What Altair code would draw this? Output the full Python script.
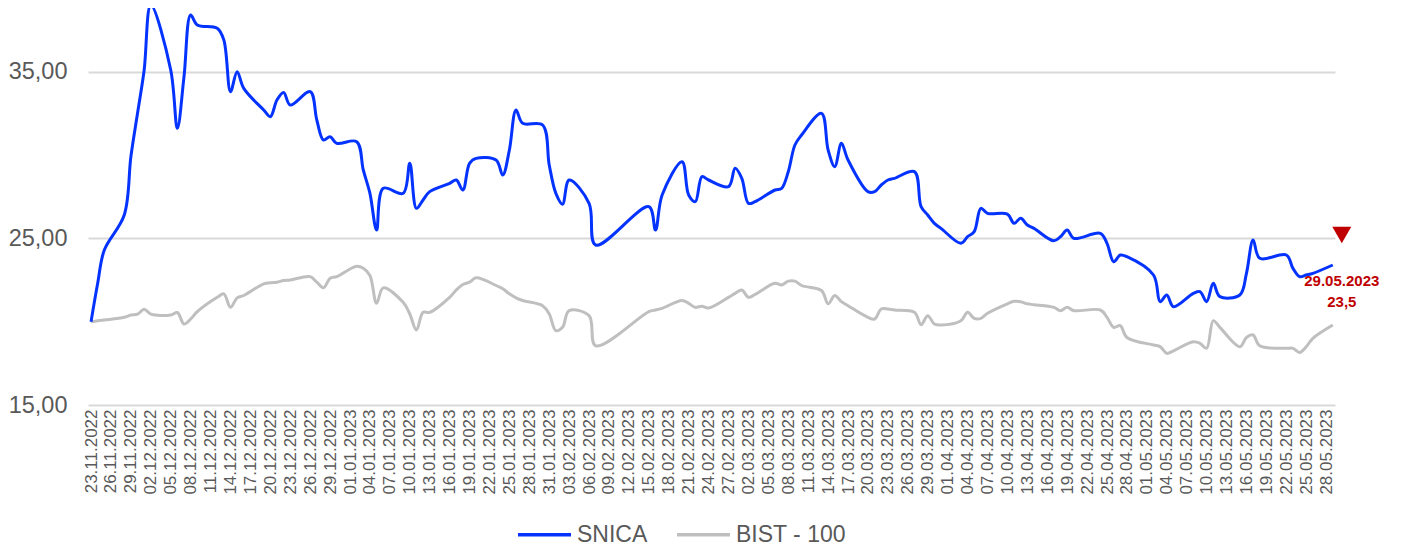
import altair as alt
import pandas as pd

# ---- data ----
dates = (
    ["2022-11-%02d" % d for d in [23, 24, 25, 28, 29, 30]]
    + ["2022-12-%02d" % d for d in [1, 2, 5, 6, 7, 8, 9, 12, 13, 14, 15, 16, 19, 20, 21, 22, 23, 26, 27, 28, 29, 30]]
    + ["2023-01-%02d" % d for d in [2, 3, 4, 5, 6, 9, 10, 11, 12, 13, 16, 17, 18, 19, 20, 23, 24, 25, 26, 27, 30, 31]]
    + ["2023-02-%02d" % d for d in [1, 2, 3, 6, 7, 15, 16, 17, 20, 21, 22, 23, 24, 27, 28]]
    + ["2023-03-%02d" % d for d in [1, 2, 3, 6, 7, 8, 9, 10, 13, 14, 15, 16, 17, 20, 21, 22, 23, 24, 27, 28, 29, 30, 31]]
    + ["2023-04-%02d" % d for d in [3, 4, 5, 6, 7, 10, 11, 12, 13, 14, 17, 18, 19, 20, 24, 25, 26, 27, 28]]
    + ["2023-05-%02d" % d for d in [2, 3, 4, 5, 8, 9, 10, 11, 12, 15, 16, 17, 18, 22, 23, 24, 25, 26, 29]]
)

snica = [
    20.0, 22.3, 24.3, 26.4, 29.9, 32.5,
    35.1, 39.0, 35.1, 31.6, 34.7, 38.4, 37.8, 37.6, 36.9, 33.8, 35.0, 34.0, 32.7, 32.3, 33.3, 33.75, 33.0, 33.8, 32.1, 30.9, 31.1, 30.7,
    30.8, 29.1, 27.7, 25.5, 28.0, 27.7, 29.5, 26.8, 27.3, 27.8, 28.3, 28.5, 27.9, 29.5, 29.8, 29.7, 28.8, 30.3, 32.7, 31.9, 31.8, 29.4,
    27.7, 27.05, 28.5, 27.1, 24.6, 26.9, 25.5, 27.6, 29.6, 27.6, 27.2, 28.7, 28.5, 28.1, 29.2,
    28.6, 27.1, 27.2, 27.9, 28.0, 29.0, 30.6, 31.2, 32.5, 30.3, 29.3, 30.7, 29.7, 27.8, 27.8, 28.2, 28.5, 28.6, 29.0, 26.9, 26.4, 25.9, 25.6,
    24.7, 25.1, 25.4, 26.8, 26.5, 26.45, 25.9, 26.2, 25.8, 25.6, 24.85, 25.1, 25.5, 25.0, 25.3, 24.7, 23.6, 24.0, 23.9,
    22.8, 21.2, 21.6, 20.9, 21.7, 21.8, 21.2, 22.3, 21.5, 21.6, 22.9, 24.9, 23.8, 24.0, 23.2, 22.7, 22.8, 22.9, 23.4,
]

bist = [
    20.0, 20.05, 20.1, 20.26, 20.4, 20.45,
    20.75, 20.45, 20.4, 20.55, 19.86, 20.16, 20.6, 21.46, 21.67, 20.86, 21.43, 21.57, 22.27, 22.33, 22.37, 22.47, 22.5, 22.7, 22.37, 22.03, 22.6, 22.7,
    23.33, 23.2, 22.77, 21.1, 22.03, 21.16, 20.46, 19.5, 20.56, 20.56, 21.46, 21.9, 22.23, 22.37, 22.63, 22.17, 21.97, 21.67, 21.43, 21.27, 20.96, 20.46,
    19.46, 19.66, 20.66, 20.36, 18.55, 20.6, 20.7, 20.8, 21.27, 21.1, 20.86, 20.93, 20.82, 21.46, 21.7,
    21.9, 21.46, 21.63, 22.3, 22.2, 22.43, 22.43, 22.17, 21.87, 21.07, 21.57, 21.2, 20.96, 20.26, 20.16, 20.76, 20.76, 20.7, 20.56, 19.82, 20.36, 19.86, 19.8,
    20.06, 20.56, 20.2, 20.2, 20.5, 21.07, 21.22, 21.2, 21.07, 21.02, 20.86, 20.66, 20.86, 20.66, 20.7, 20.26, 19.66, 19.76, 19.05,
    18.6, 18.5, 18.1, 18.25, 18.8, 18.7, 18.4, 20.06, 19.66, 18.5, 19.05, 19.2, 18.55, 18.4, 18.4, 18.15, 18.5, 19.0, 19.8,
]

series_names = ["SNICA", "BIST - 100"]
series_colors = ["#0433ff", "#bfbfbf"]
y_ticks = [15, 25, 35]
tick_dates = list(pd.date_range("2022-11-23", "2023-05-28", freq="3D"))

annot_date = "2023-05-29"
annot_value = snica[-1]
annot_text = "29.05.2023\n23,5"

# ---- tables ----
rows = []
for d, v in zip(dates, bist):
    rows.append({"date": d + "T00:00:00", "value": v, "series": "BIST - 100", "ord": 0})
for d, v in zip(dates, snica):
    rows.append({"date": d + "T00:00:00", "value": v, "series": "SNICA", "ord": 1})
df = pd.DataFrame(rows)
annot = pd.DataFrame([{"date": annot_date + "T00:00:00", "value": annot_value, "label": annot_text}])

font = "Liberation Sans"
grey_txt = "#595959"

x_scale = alt.Scale(domain=[alt.DateTime(year=2022, month=11, date=22, hours=13),
                            alt.DateTime(year=2023, month=5, date=29, hours=8)])
y_scale = alt.Scale(domain=[15, 38.82], nice=False, zero=False)

x_axis = alt.Axis(
    values=[alt.DateTime(year=t.year, month=t.month, date=t.day) for t in tick_dates],
    format="%d.%m.%Y", labelAngle=270, labelAlign="right", labelBaseline="middle",
    labelFont=font, labelFontSize=17, labelColor=grey_txt, labelPadding=4,
    labelOverlap=False, labelBound=False, labelFlush=False,
    grid=False, ticks=False, domain=False, title=None,
)
y_axis = alt.Axis(
    values=y_ticks, labelExpr="replace(format(datum.value, '.2f'), '.', ',')",
    labelFont=font, labelFontSize=23.5, labelColor=grey_txt, labelPadding=21,
    grid=True, gridColor="#d9d9d9", gridWidth=2, ticks=False, domain=False, title=None,
)

X = alt.X("date:T", scale=x_scale, axis=x_axis)
Y = alt.Y("value:Q", scale=y_scale, axis=y_axis)

lines = alt.Chart(df).mark_line(interpolate="catmull-rom", strokeWidth=3, clip=False).encode(
    x=X, y=Y,
    color=alt.Color("series:N", scale=alt.Scale(domain=series_names, range=series_colors),
                    legend=alt.Legend(
                        title=None, orient="none", direction="horizontal",
                        legendX=428, legendY=498,
                        symbolType="stroke", symbolSize=2809, symbolStrokeWidth=3.5,
                        labelFont=font, labelFontSize=23, labelColor=grey_txt,
                        labelOffset=4, columnPadding=22,
                    )),
    order=alt.Order("ord:Q"),
)

tri = alt.Chart(annot).mark_point(shape="triangle-down", filled=True, size=360, color="#C00000",
                                  opacity=1, xOffset=9, yOffset=-30, clip=False).encode(x=X, y=Y)
txt = alt.Chart(annot).mark_text(font=font, fontSize=15, fontWeight="bold", color="#C00000",
                                 lineBreak="\n", lineHeight=21, align="center", baseline="middle",
                                 dx=9, dy=16, clip=False).encode(x=X, y=Y, text="label:N")

chart = alt.layer(lines, tri, txt).properties(
    width=1247, height=397,
    autosize=alt.AutoSizeParams(type="none"),
    padding={"left": 80, "top": 0, "right": 60, "bottom": 146},
).configure(background="white").configure_view(strokeWidth=0, stroke="transparent")

chart.save("out.html", embed_options={"renderer": "svg", "actions": False})
